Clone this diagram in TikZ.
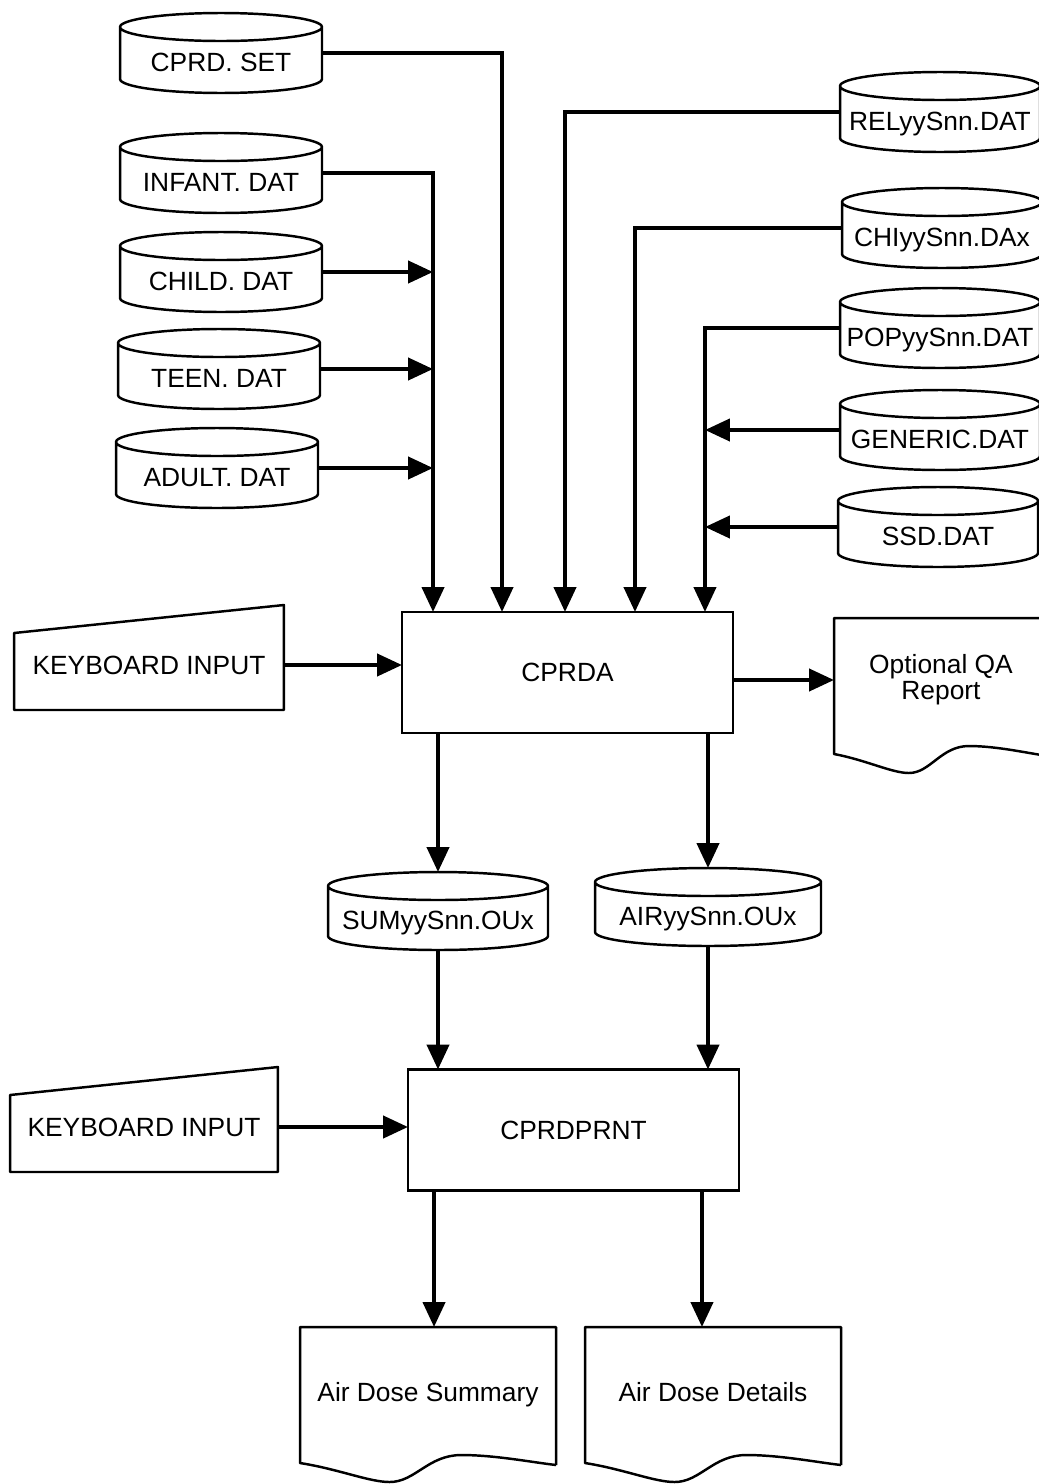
\documentclass[tikz,border=0pt]{standalone}
\usepackage{fontspec}
\setmainfont{Liberation Sans}
\usetikzlibrary{arrows.meta,calc}

\begin{document}
\begin{tikzpicture}[x=0.02cm,y=-0.02cm]
	\tikzstyle{every node}+=[inner sep=0pt, outer sep=0pt, font=\fontsize{15}{15}\selectfont]
	\tikzstyle{disk}=[minimum width=4.04cm, minimum height=1.6cm, text height=0.73cm, text depth=0pt]
	\tikzstyle{proc}=[draw, line width=1.4pt, minimum width=6.62cm, minimum height=2.42cm]
	\tikzstyle{kbd}=[minimum width=5.4cm, minimum height=1.8cm]
	\tikzstyle{doc}=[minimum height=2.48cm]
	\tikzstyle{report}=[doc, minimum width=5.12cm, text height=0.6cm, text depth=0.1cm]
	\tikzstyle{outline}=[line width=1.4pt, line join=round]
	\tikzstyle{flow}=[line width=2.4pt, -{Triangle[length=0.5cm,width=0.44cm]}]
	\useasboundingbox (0,0) rectangle (1038,1484);
	\node[disk] (cpset) at (221,53) {CPRD. SET};
	\node[disk] (infant) at (221,173) {INFANT. DAT};
	\node[disk] (child) at (221,272) {CHILD. DAT};
	\node[disk] (teen) at (219,369) {TEEN. DAT};
	\node[disk] (adult) at (217,468) {ADULT. DAT};
	\node[disk, minimum width=4cm] (rel) at (940,112) {RELyySnn.DAT};
	\node[disk, minimum width=4cm] (chi) at (942,228) {CHIyySnn.DAx};
	\node[disk, minimum width=4cm] (pop) at (940,328) {POPyySnn.DAT};
	\node[disk, minimum width=4cm] (generic) at (940,430) {GENERIC.DAT};
	\node[disk, minimum width=4cm] (ssd) at (938,527) {SSD.DAT};
	\node[proc] (cprda) at (567.5,672.5) {CPRDA};
	\node[kbd] (kbd1) at (149,665) {KEYBOARD INPUT};
	\node[doc, minimum width=4.28cm, align=center] (qa) at (941,680) {Optional QA\\Report};
	\node[disk, minimum width=4.4cm, minimum height=1.56cm] (sumout) at (438,911) {SUMyySnn.OUx};
	\node[disk, minimum width=4.52cm, minimum height=1.56cm] (airout) at (708,907) {AIRyySnn.OUx};
	\node[proc] (prnt) at (573.5,1130) {CPRDPRNT};
	\node[kbd, minimum width=5.36cm] (kbd2) at (144,1127) {KEYBOARD INPUT};
	\node[report] (sumrep) at (428,1389) {Air Dose Summary};
	\node[report] (detrep) at (713,1389) {Air Dose Details};
	\foreach \c in {cpset,infant,child,teen,adult,rel,chi,pop,generic,ssd,sumout,airout}
		\draw[outline] let \p1=($(\c.east)-(\c.west)$) in
			([yshift=-0.28cm]\c.north) ellipse [x radius=0.5*\x1, y radius=0.28cm]
			([yshift=-0.28cm]\c.north west) -- ([yshift=0.28cm]\c.south west)
			arc [start angle=180, end angle=360, x radius=0.5*\x1, y radius=0.28cm]
			-- ([yshift=-0.28cm]\c.north east);
	\foreach \k in {kbd1,kbd2}
		\draw[outline] (\k.south west) -- ([yshift=-0.26cm]\k.north west) -- ([yshift=0.3cm]\k.north east) -- (\k.south east) -- cycle;
	\foreach \d/\w in {qa/214,sumrep/256,detrep/256}
		\draw[outline, shift={(\d.north west)}] (\w,138) -- (\w,0) -- (0,0) -- (0,136)
			.. controls (0.15*\w,142) and (0.27*\w,155) .. (0.35*\w,155)
			.. controls (0.45*\w,155) and (0.5*\w,128) .. (0.63*\w,128)
			.. controls (0.76*\w,128) and (0.9*\w,135) .. (\w,138);
	\coordinate (lbus) at ([xshift=0.62cm]cprda.north west);
	\coordinate (setin) at ([xshift=2cm]cprda.north west);
	\coordinate (relin) at ([xshift=3.26cm]cprda.north west);
	\coordinate (chiin) at ([xshift=4.66cm]cprda.north west);
	\coordinate (rbus) at ([xshift=6.06cm]cprda.north west);
	\coordinate (sumtap) at ([xshift=0.52cm]prnt.south west);
	\coordinate (dettap) at ([xshift=5.88cm]prnt.south west);
	\draw[flow] (cpset.east) -| (setin);
	\draw[flow] (infant.east) -| (lbus);
	\foreach \s in {child,teen,adult}
		\draw[flow] (\s.east) -- (\s.east -| lbus);
	\draw[flow] (rel.west) -| (relin);
	\draw[flow] (chi.west) -| (chiin);
	\draw[flow] (pop.west) -| (rbus);
	\foreach \s in {generic,ssd}
		\draw[flow] (\s.west) -- (\s.west -| rbus);
	\draw[flow] (kbd1.east) -- (kbd1.east -| cprda.west);
	\draw[flow] (cprda.east |- qa.west) -- (qa.west);
	\draw[flow] (cprda.south -| sumout.north) -- (sumout.north);
	\draw[flow] (cprda.south -| airout.north) -- (airout.north);
	\draw[flow] (sumout.south) -- (sumout.south |- prnt.north);
	\draw[flow] (airout.south) -- (airout.south |- prnt.north);
	\draw[flow] (kbd2.east) -- (kbd2.east -| prnt.west);
	\draw[flow] (sumtap) -- (sumtap |- sumrep.north);
	\draw[flow] (dettap) -- (dettap |- detrep.north);
\end{tikzpicture}
\end{document}
